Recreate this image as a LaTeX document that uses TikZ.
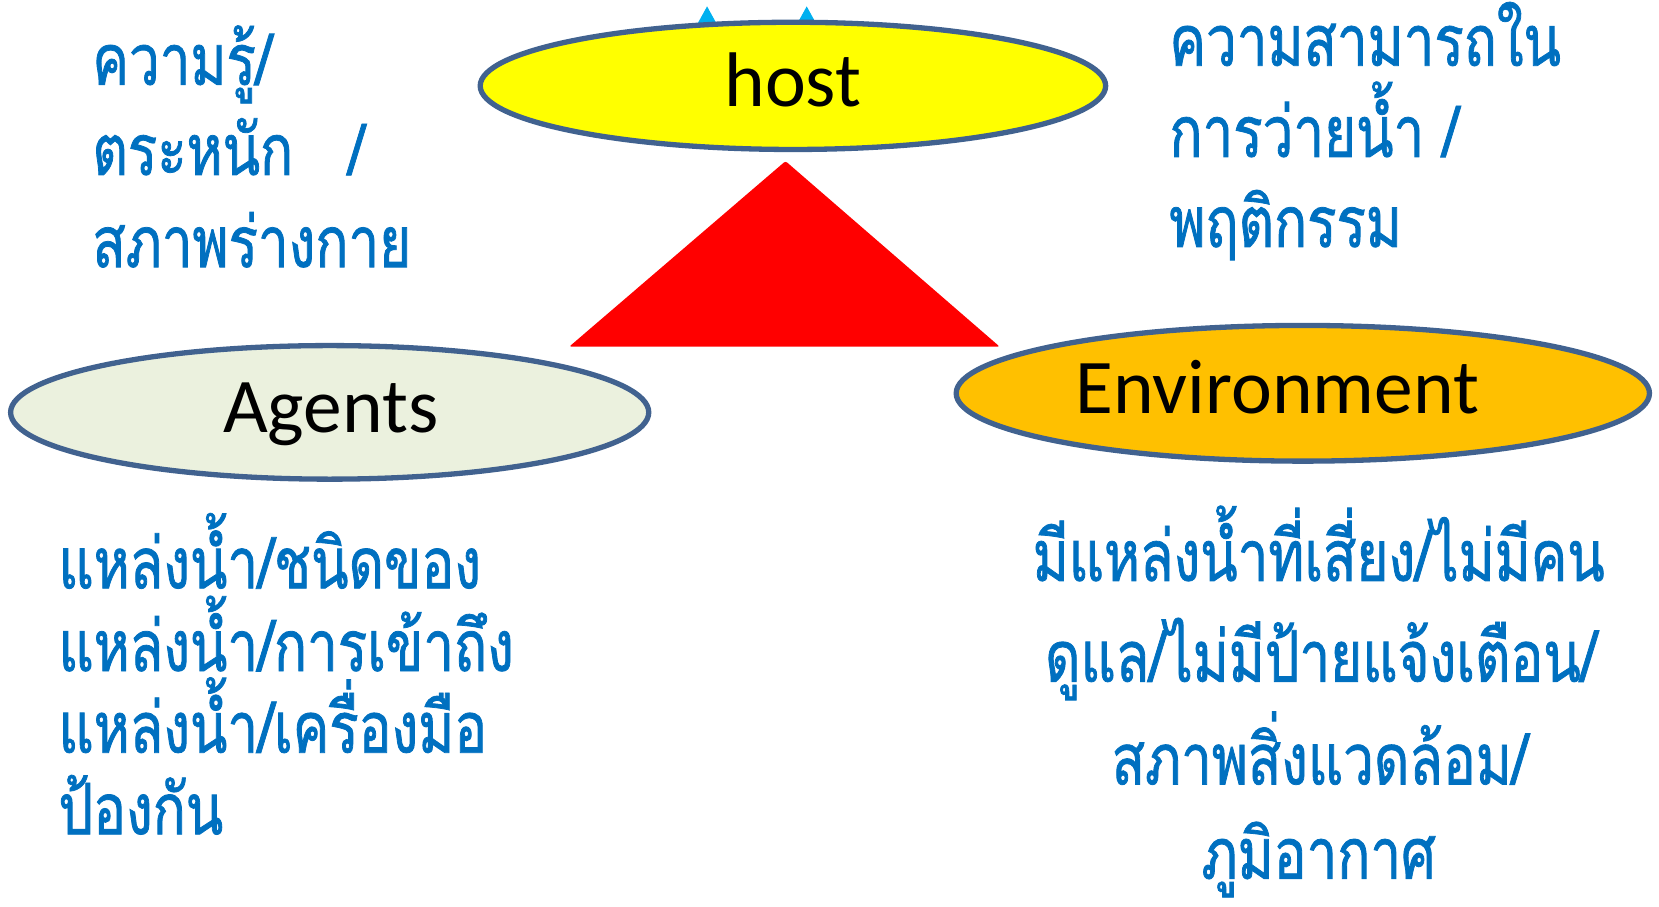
\documentclass[tikz,border=0pt]{standalone}
\usepackage{fontspec}
\usetikzlibrary{shapes.geometric}
\setmainfont{Carlito}
\newfontfamily\thaifont[Script=Thai,FakeStretch=0.77,FakeBold=1.1]{Loma}
\definecolor{thaiblue}{HTML}{0070C0}
\definecolor{rimblue}{HTML}{41628F}
\definecolor{hostfill}{HTML}{FFFF00}
\definecolor{agentfill}{HTML}{EBF1DE}
\definecolor{envfill}{HTML}{FFC000}
\definecolor{markcyan}{HTML}{00B0F0}
\tikzset{
  oval/.style={ellipse, draw=rimblue, line width=5pt, inner sep=0pt},
  label text/.style={font=\fontsize{73}{80}\selectfont, text=black, inner sep=0pt, anchor=base},
  thai/.style={font=\thaifont\fontsize{67}{75}\selectfont, text=thaiblue, inner sep=0pt},
  thaileft/.style={thai, anchor=base west},
  thaimid/.style={thai, anchor=base},
}
\begin{document}
\begin{tikzpicture}[x=1pt,y=-1pt]
\useasboundingbox (0,0) rectangle (1565,855.6);
% small cyan marks above host
\fill[markcyan] (656,26) -- (667,6) -- (678,26) -- cycle;
\fill[markcyan] (750,26) -- (761,6) -- (772,26) -- cycle;
% ellipses
\node[oval, fill=hostfill, minimum width=590pt, minimum height=120pt] (host) at (748,81) {};
\node[oval, fill=agentfill, minimum width=602pt, minimum height=126pt] (agents) at (311,389) {};
\node[oval, fill=envfill, minimum width=654pt, minimum height=128pt] (env) at (1229,371) {};
% triangle
\fill[red, rounded corners=2pt] (741,152) -- (943,327) -- (537,327) -- cycle;
% labels
\node[label text] (hosttext) at (748,100) {host};
\node[label text] (agentstext) at (312,408) {Agents};
\node[label text] (envtext) at (1205,390) {Environment};
% top-left
\node[thaileft] (tl1) at (87,80) {ความรู้/};
\node[thaileft] (tl2) at (87,165) {ตระหนัก\ \ \ /};
\node[thaileft] (tl3) at (87,252) {สภาพร่างกาย};
% top-right
\node[thaileft] (tr1) at (1103,62) {ความสามารถใน};
\node[thaileft] (tr2) at (1103,148) {การว่ายน้ำ /};
\node[thaileft] (tr3) at (1103,233) {พฤติกรรม};
% bottom-left
\node[thaileft] (bl1) at (55,555) {แหล่งน้ำ/ชนิดของ};
\node[thaileft] (bl2) at (55,633) {แหล่งน้ำ/การเข้าถึง};
\node[thaileft] (bl3) at (55,710) {แหล่งน้ำ/เครื่องมือ};
\node[thaileft] (bl4) at (55,787) {ป้องกัน};
% bottom-right
\node[thaimid] (br1) at (1244,548) {มีแหล่งน้ำที่เสี่ยง/ไม่มีคน};
\node[thaimid] (br2) at (1246,643) {ดูแล/ไม่มีป้ายแจ้งเตือน/};
\node[thaimid] (br3) at (1245,740) {สภาพสิ่งแวดล้อม/};
\node[thaimid] (br4) at (1244,829) {ภูมิอากาศ};
\end{tikzpicture}
\end{document}
